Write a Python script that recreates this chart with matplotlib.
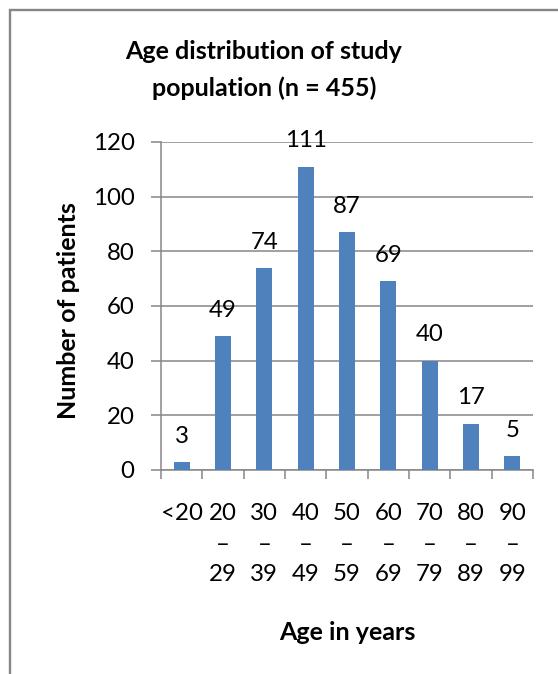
import matplotlib
matplotlib.use("Agg")
import matplotlib.pyplot as plt
from matplotlib.patches import Rectangle

# Age groups and patient counts
age_groups = ["<20", "20\n–\n29", "30\n–\n39", "40\n–\n49", "50\n–\n59",
              "60\n–\n69", "70\n–\n79", "80\n–\n89", "90\n–\n99"]
patients = [3, 49, 74, 111, 87, 69, 40, 17, 5]
y_ticks = [0, 20, 40, 60, 80, 100, 120]

title = "Age distribution of study\npopulation (n = 455)"
x_title = "Age in years"
y_title = "Number of patients"

BAR = "#4F81BD"
GRID = "#868686"
FONT = ["Lato", "DejaVu Sans"]
REG = 17.3
BOLD = 18

plt.rcParams["font.family"] = FONT

W, H = 558, 674
fig = plt.figure(figsize=(W / 100, H / 100), dpi=100)
fig.patch.set_facecolor("white")

# chart-area frame (extends beyond the right and bottom edges)
fig.add_artist(Rectangle((10 / W, -0.1), 1.2, 1 - 10 / H + 0.1,
                         transform=fig.transFigure, fill=False,
                         edgecolor=GRID, linewidth=1.7))

ax = fig.add_axes([161 / W, 1 - 470 / H, (533 - 161) / W, (470 - 142) / H])
ax.set_facecolor("white")

x = list(range(len(patients)))
bars = ax.bar(x, patients, width=0.39, color=BAR, zorder=3)

ax.set_xlim(-0.5, len(patients) - 0.5)
ax.set_ylim(0, 120)

# category boundary ticks (major) and centred labels (minor)
ax.set_xticks([i - 0.5 for i in range(len(patients) + 1)])
ax.set_xticklabels([])
ax.set_xticks(x, minor=True)
ax.set_xticklabels(age_groups, minor=True, fontsize=REG, linespacing=1.56,
                   va="top")
ax.tick_params(axis="x", which="major", direction="out", length=6.5,
               width=1.1, color=GRID)
ax.tick_params(axis="x", which="minor", length=0, pad=24)

ax.set_yticks(y_ticks)
ax.set_yticklabels([str(v) for v in y_ticks], fontsize=REG)
ax.tick_params(axis="y", direction="out", length=7, width=1.1, color=GRID,
               pad=12)

ax.yaxis.grid(True, color=GRID, linewidth=1.1, zorder=0)
ax.set_axisbelow(True)

for side in ("top", "right"):
    ax.spines[side].set_visible(False)
for side in ("left", "bottom"):
    ax.spines[side].set_color(GRID)
    ax.spines[side].set_linewidth(1.1)

# value labels above each bar
for xi, v in zip(x, patients):
    ax.annotate(str(v), (xi, v), xytext=(0, 18.5), textcoords="offset points",
                ha="center", va="center", fontsize=REG, color="black")

fig.text(264 / W, 1 - 70 / H, title, ha="center", va="center",
         fontsize=BOLD, fontweight="bold", linespacing=1.72)
fig.text(68 / W, 1 - 311 / H, y_title, ha="center", va="center",
         rotation=90, fontsize=BOLD, fontweight="bold")
fig.text(347 / W, 1 - 632 / H, x_title, ha="center", va="center",
         fontsize=BOLD, fontweight="bold")

fig.savefig("out.png", dpi=100, facecolor="white")
